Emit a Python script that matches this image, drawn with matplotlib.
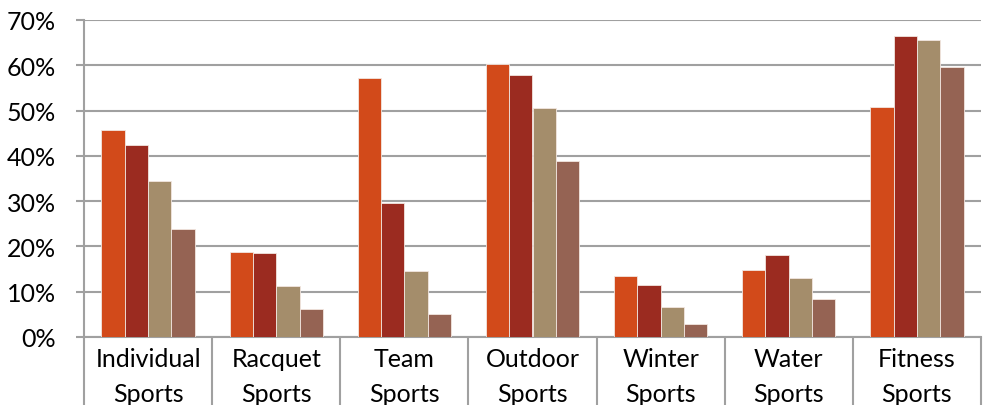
import matplotlib
matplotlib.use("Agg")
import matplotlib.pyplot as plt
import numpy as np
from matplotlib.ticker import FixedLocator, PercentFormatter

categories = ["Individual\nSports", "Racquet\nSports", "Team\nSports", "Outdoor\nSports",
              "Winter\nSports", "Water\nSports", "Fitness\nSports"]
series1 = [45.8, 18.8, 57.2, 60.2, 13.4, 14.9, 50.8]
series2 = [42.4, 18.5, 29.6, 57.8, 11.5, 18.0, 66.5]
series3 = [34.4, 11.3, 14.5, 50.6, 6.7, 13.0, 65.5]
series4 = [23.8, 6.2, 5.1, 38.8, 2.9, 8.4, 59.7]
yticks = [0, 10, 20, 30, 40, 50, 60, 70]

colors = ["#D24A1A", "#9B2B20", "#A48D6B", "#956353"]

plt.rcParams['font.family'] = ['Lato', 'DejaVu Sans']

W, H = 983, 406
fig = plt.figure(figsize=(W / 100, H / 100), dpi=100)
left, right, bottom_px, top_px = 84, 981, 338, 21
ax = fig.add_axes([left / W, (H - bottom_px) / H, (right - left) / W, (bottom_px - top_px) / H])

n = len(categories)
x = np.arange(n)
bw = 0.182
allser = [series1, series2, series3, series4]
for k, s in enumerate(allser):
    ax.bar(x + (k - 1.5) * bw, s, width=bw, color=colors[k], edgecolor="#F2E6E0",
           linewidth=0.6, zorder=3)

ax.set_xlim(-0.5, n - 0.5)
ax.set_ylim(0, 70)
ax.set_yticks(yticks)
ax.yaxis.set_major_formatter(PercentFormatter(decimals=0))
ax.yaxis.grid(True, color="#A0A0A0", linewidth=1.5, zorder=0)
ax.tick_params(axis='y', length=6, width=1.5, color="#A0A0A0", pad=14, labelsize=18, labelcolor="black")

# category separators extending below the axis
ax.xaxis.set_major_locator(FixedLocator(np.arange(n + 1) - 0.5))
ax.xaxis.set_major_formatter(plt.NullFormatter())
ax.tick_params(axis='x', which='major', length=60, width=1.5, color="#A0A0A0", direction='out')

for sp in ["top", "right"]:
    ax.spines[sp].set_visible(False)
for sp in ["left", "bottom"]:
    ax.spines[sp].set_color("#A0A0A0")
    ax.spines[sp].set_linewidth(1.5)

trans = matplotlib.transforms.blended_transform_factory(ax.transData, ax.transAxes)
axh = bottom_px - top_px
for i, c in enumerate(categories):
    l1, l2 = c.split("\n")
    ax.text(i, -(367 - bottom_px) / axh, l1, transform=trans, ha='center', va='baseline',
            fontsize=18, color="black")
    ax.text(i, -(402 - bottom_px) / axh, l2, transform=trans, ha='center', va='baseline',
            fontsize=18, color="black")

fig.savefig("out.png", dpi=100)
